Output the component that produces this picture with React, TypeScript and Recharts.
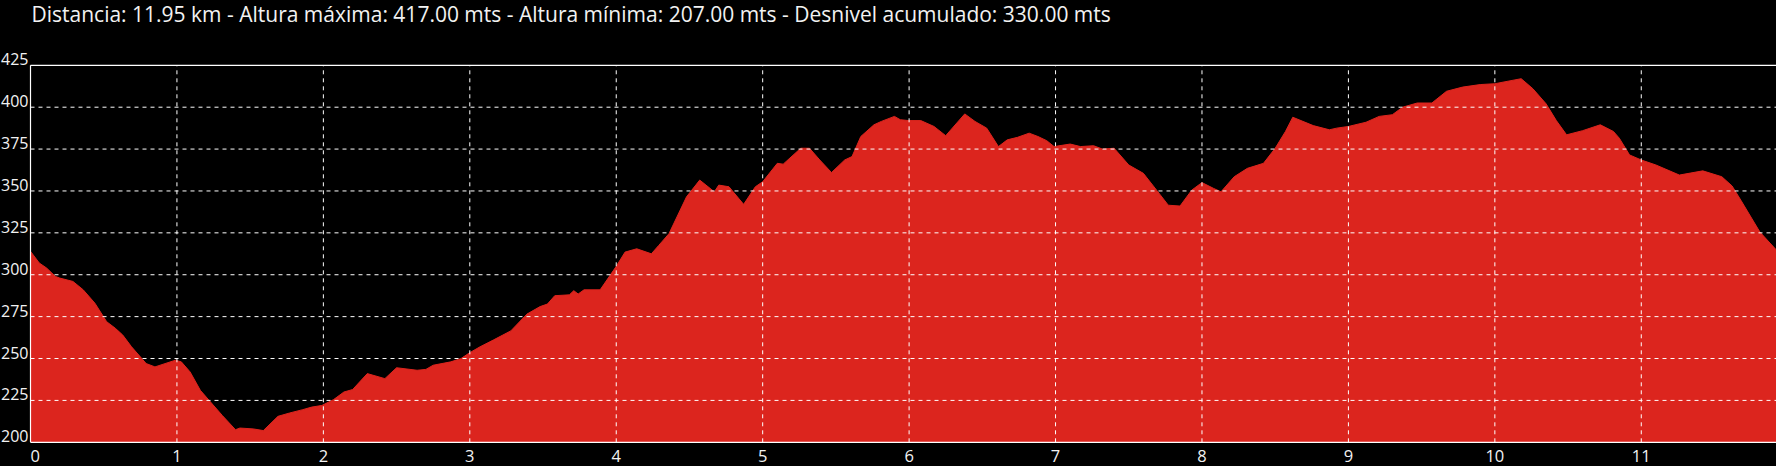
import React from "react";
import { AreaChart, Area, XAxis, YAxis, ReferenceLine } from "recharts";

const kmValues = [
  0, 0.06, 0.11, 0.17, 0.2, 0.29, 0.36, 0.44, 0.52, 0.58, 0.63, 0.69, 0.79, 0.85, 0.99,
  1.03, 1.09, 1.16, 1.23, 1.31, 1.4, 1.43, 1.52, 1.59, 1.69, 1.77, 1.86, 1.92, 1.99,
  2.07, 2.14, 2.2, 2.3, 2.42, 2.5, 2.64, 2.7, 2.75, 2.87, 2.94,
  3.0, 3.07, 3.16, 3.28, 3.39, 3.48, 3.53, 3.58, 3.68, 3.71, 3.74, 3.78, 3.89,
  4.0, 4.06, 4.14, 4.24, 4.29, 4.36, 4.48, 4.57, 4.67, 4.7, 4.77, 4.87, 4.95,
  5.0, 5.1, 5.14, 5.26, 5.32, 5.39, 5.47, 5.56, 5.61, 5.67, 5.76, 5.81, 5.9, 5.94,
  6.0, 6.08, 6.17, 6.25, 6.38, 6.45, 6.53, 6.61, 6.67, 6.74, 6.82, 6.88, 6.94, 6.99,
  7.1, 7.17, 7.26, 7.32, 7.4, 7.5, 7.6, 7.69, 7.77, 7.85, 7.93,
  8.0, 8.08, 8.13, 8.22, 8.31, 8.42, 8.5, 8.57, 8.62, 8.76, 8.87, 8.92,
  9.0, 9.12, 9.21, 9.3, 9.37, 9.47, 9.57, 9.67, 9.78, 9.9,
  10.0, 10.09, 10.18, 10.26, 10.35, 10.42, 10.49, 10.6, 10.72, 10.81, 10.85, 10.92,
  11.0, 11.1, 11.26, 11.42, 11.55, 11.62, 11.68, 11.81, 11.92,
];

const elevation = [
  314, 307, 304, 299, 298, 296, 291, 283, 272, 268, 264, 257, 247, 245, 249,
  248, 242, 231, 224, 216, 207.5, 208.5, 208, 207, 215.5, 217.5, 219.5, 221, 222,
  225.5, 230, 231.5, 241, 238, 244.5, 243, 243.5, 246, 248, 250,
  253.5, 257, 261, 266.5, 276.5, 281, 282.5, 287.5, 288, 290.5, 288.5, 291, 291,
  305, 313.5, 315.5, 312.5, 317.5, 324.5, 346.5, 356.5, 349.5, 353.5, 352.5, 342, 352.5,
  355.5, 366.5, 366, 375.5, 375.5, 368.5, 361, 368.5, 370.5, 382.5, 389.5, 391.5, 394.5, 392.5,
  392, 392, 388.5, 383, 396, 391.5, 387.5, 376.5, 380.5, 382, 384.5, 382.5, 380, 376.5,
  378, 376.5, 377, 375, 375.5, 365.5, 360.5, 350.5, 341.5, 341, 350.5,
  355, 351.5, 349.5, 358.5, 363.5, 366.5, 375.5, 385.5, 394, 389, 386.5, 387.5,
  388.5, 391, 394.5, 395.5, 400, 402.5, 402.5, 409.5, 412, 413.5,
  414, 415.5, 417, 411, 402, 392, 383.5, 386, 389.5, 385.5, 381.5, 371.5,
  368.5, 365.5, 359.5, 362, 358.5, 353, 344.5, 325.5, 315,
];

const xTicks = [0, 1, 2, 3, 4, 5, 6, 7, 8, 9, 10, 11];
const yTicks = [200, 225, 250, 275, 300, 325, 350, 375, 400, 425];

const titleText =
  "Distancia: 11.95 km - Altura máxima: 417.00 mts - Altura mínima: 207.00 mts - Desnivel acumulado: 330.00 mts";

const data = kmValues.map((km, i) => ({ km, alt: elevation[i] }));

const FONT = "'Open Sans', 'Noto Sans', sans-serif";

const YTick = (props: any) => {
  const { y, payload } = props;
  return (
    <text x={1} y={y} fill="#f2f2f2" fontSize={16} fontFamily={FONT} textAnchor="start">
      {payload.value}
    </text>
  );
};

const XTick = (props: any) => {
  const { x, y, payload } = props;
  return (
    <text
      x={x}
      y={y + 19.4}
      fill="#f2f2f2"
      fontSize={16.5}
      fontFamily={FONT}
      textAnchor={payload.value === 0 ? "start" : "middle"}
    >
      {payload.value}
    </text>
  );
};

export default function App() {
  return (
    <div
      style={{
        position: "absolute",
        left: 0,
        top: 0,
        width: 1776,
        height: 466,
        background: "#000",
        overflow: "hidden",
      }}
    >
      <div
        style={{
          position: "absolute",
          left: 31.5,
          top: 4,
          fontFamily: FONT,
          fontSize: 21,
          lineHeight: 1,
          color: "#f2f2f2",
          whiteSpace: "nowrap",
        }}
      >
        {titleText}
      </div>
      <AreaChart
        width={1776}
        height={466}
        data={data}
        margin={{ top: 65.3, right: 0, bottom: 0, left: 0 }}
      >
        <XAxis
          dataKey="km"
          type="number"
          domain={[0, 11.92]}
          allowDataOverflow
          ticks={xTicks}
          interval={0}
          height={23.7}
          tickSize={0}
          tickMargin={0}
          tickLine={false}
          axisLine={{ stroke: "#ffffff", strokeWidth: 1.2 }}
          tick={<XTick />}
        />
        <YAxis
          type="number"
          domain={[200, 425]}
          allowDataOverflow
          ticks={yTicks}
          interval={0}
          width={30.5}
          tickSize={0}
          tickMargin={0}
          tickLine={false}
          axisLine={{ stroke: "#ffffff", strokeWidth: 1.2 }}
          tick={<YTick />}
        />
        <Area
          type="linear"
          dataKey="alt"
          stroke="#dc251e"
          strokeWidth={1}
          fill="#dc251e"
          fillOpacity={1}
          isAnimationActive={false}
          dot={false}
          activeDot={false}
        />
        {yTicks
          .filter((v) => v !== 200 && v !== 425)
          .map((v) => (
            <ReferenceLine
              key={"h" + v}
              y={v}
              stroke="#ffffff"
              strokeWidth={1}
              strokeDasharray="4 4"
            />
          ))}
        {xTicks
          .filter((v) => v !== 0)
          .map((v) => (
            <ReferenceLine
              key={"v" + v}
              x={v}
              stroke="#ffffff"
              strokeWidth={1}
              strokeDasharray="4 4"
            />
          ))}
        <ReferenceLine y={425} stroke="#ffffff" strokeWidth={1.2} />
      </AreaChart>
    </div>
  );
}
